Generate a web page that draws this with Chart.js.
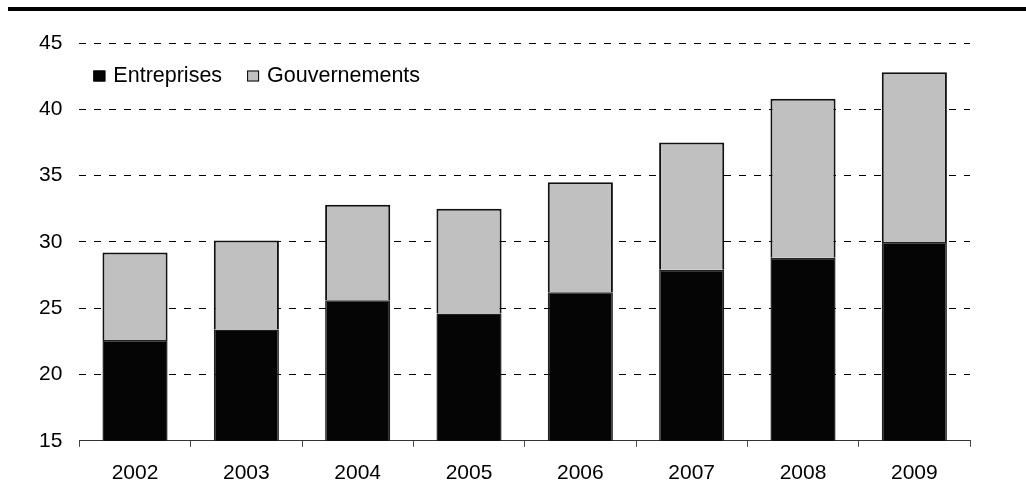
<!DOCTYPE html>
<html>
<head>
<meta charset="utf-8">
<script src="https://cdn.jsdelivr.net/npm/chart.js@4/dist/chart.umd.min.js"></script>
<style>
  html, body { margin: 0; padding: 0; background: #fff; }
  #wrap { position: relative; width: 1026px; height: 503px; }
  #rule { position: absolute; left: 8px; top: 7px; width: 1018px; height: 4px; background: #000; }
  canvas { position: absolute; left: 0; top: 0; }
</style>
</head>
<body>
<div id="wrap">
  <canvas id="chart" width="1026" height="503"></canvas>
  <div id="rule"></div>
</div>
<script>
// Years on the horizontal axis
const years = ['2002', '2003', '2004', '2005', '2006', '2007', '2008', '2009'];
// Lower segment of each stack
const entreprises = [22.6, 23.4, 25.6, 24.6, 26.2, 27.9, 28.8, 30.0];
// Totals at the top of each stack
const totals = [29.2, 30.1, 32.8, 32.5, 34.5, 37.5, 40.8, 42.8];
// Upper segment = total minus the lower segment
const gouvernements = totals.map((t, i) => +(t - entreprises[i]).toFixed(2));
const seriesNames = ['Entreprises', 'Gouvernements'];
const seriesColors = ['#050505', '#c0c0c0'];

const FONT = "'Liberation Sans', Arial, sans-serif";

// Legend drawn inside the plot, top-left
const innerLegend = {
  id: 'innerLegend',
  afterDraw(chart) {
    const ctx = chart.ctx;
    const area = chart.chartArea;
    ctx.save();
    ctx.font = '21.5px ' + FONT;
    ctx.textBaseline = 'middle';
    let x = area.left + 14;
    const yMid = area.top + 33;
    chart.data.datasets.forEach((ds, i) => {
      ctx.fillStyle = ds.backgroundColor;
      ctx.strokeStyle = '#000';
      ctx.lineWidth = 1;
      ctx.fillRect(x, yMid - 5.5, 12, 11);
      ctx.strokeRect(x + 0.5, yMid - 5, 11, 10);
      ctx.fillStyle = '#000';
      ctx.fillText(ds.label, x + 20, yMid);
      x += 20 + ctx.measureText(ds.label).width + 25;
    });
    ctx.restore();
  }
};

new Chart(document.getElementById('chart'), {
  type: 'bar',
  data: {
    labels: years,
    datasets: [
      {
        label: seriesNames[0],
        data: entreprises,
        backgroundColor: seriesColors[0],
        borderColor: '#222',
        borderWidth: 1.5,
        categoryPercentage: 1,
        barPercentage: 0.585
      },
      {
        label: seriesNames[1],
        data: gouvernements,
        backgroundColor: seriesColors[1],
        borderColor: '#111',
        borderWidth: 2,
        categoryPercentage: 1,
        barPercentage: 0.585
      }
    ]
  },
  options: {
    responsive: false,
    animation: false,
    devicePixelRatio: 1,
    layout: { padding: { top: 43, left: 22, right: 56, bottom: 3 } },
    plugins: {
      legend: { display: false },
      tooltip: { enabled: false }
    },
    scales: {
      x: {
        stacked: true,
        grid: {
          display: true,
          offset: true,
          drawOnChartArea: false,
          drawTicks: true,
          tickLength: 6,
          color: '#444',
          lineWidth: 1
        },
        border: { display: true, color: '#333', width: 1 },
        ticks: { color: '#000', font: { family: FONT, size: 21 }, padding: 14 }
      },
      y: {
        stacked: true,
        min: 15,
        max: 45,
        grid: {
          color: '#000',
          lineWidth: 1,
          drawTicks: false
        },
        border: { display: false, dash: [7, 8] },
        ticks: { stepSize: 5, color: '#000', font: { family: FONT, size: 21 }, padding: 17 }
      }
    }
  },
  plugins: [innerLegend]
});
</script>
</body>
</html>
